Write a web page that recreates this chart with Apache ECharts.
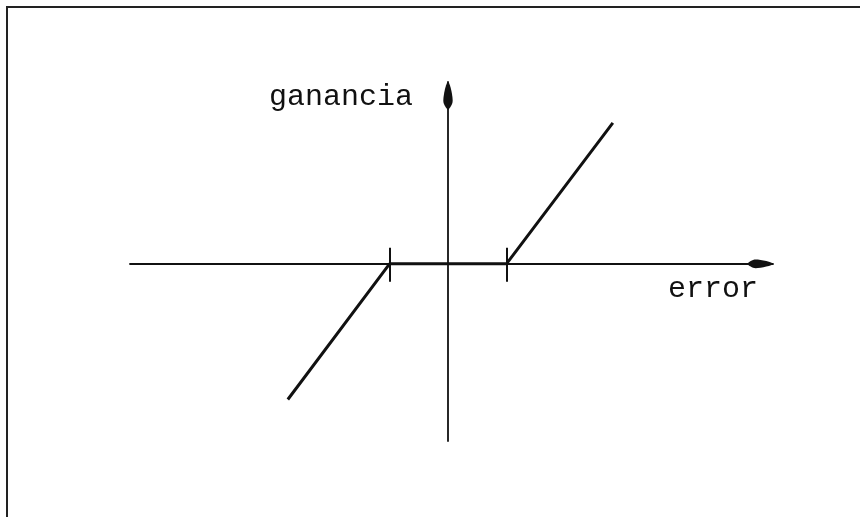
<!DOCTYPE html>
<html>
<head>
<meta charset="utf-8">
<script src="https://cdn.jsdelivr.net/npm/echarts@6/dist/echarts.min.js"></script>
<style>
  html, body { margin: 0; padding: 0; background: #fff; }
  #wrap { position: relative; width: 860px; height: 517px; overflow: hidden; }
  #frame {
    position: absolute; left: 6px; top: 6px; right: -10px; bottom: -10px;
    border-top: 2px solid #222; border-left: 2px solid #222;
  }
  #chart { position: absolute; left: 0; top: 0; width: 860px; height: 517px; }
</style>
</head>
<body>
<div id="wrap">
  <div id="frame"></div>
  <div id="chart"></div>
</div>
<script>
// zona muerta: ganancia vs error
const curveX = [-2.74, -1, 1, 2.82]
const curveY = [-2.32, 0, 0, 2.41]
const tickValues = [-1, 1]
const xRange = [-5.44, 5.56]
const yRange = [-3.03, 3.11]

const arrowPath = 'path://M5,0 C7,0 10,14 10,20 C10,24 7,28 5,30 C3,28 0,24 0,20 C0,14 3,0 5,0 Z'
const ink = '#111'
const labelFont = { fontFamily: 'Liberation Mono', fontSize: 30, color: ink }
const gridBox = { left: 130, right: 87, top: 82, bottom: 76, containLabel: false }

const chart = echarts.init(document.getElementById('chart'), null, { renderer: 'canvas' })

const option = {
  animation: false,
  backgroundColor: 'transparent',
  // la segunda rejilla solo lleva las marcas hacia arriba
  grid: [Object.assign({}, gridBox), Object.assign({}, gridBox)],
  xAxis: [
    {
      type: 'value',
      gridIndex: 0,
      min: xRange[0],
      max: xRange[1],
      name: 'error',
      nameLocation: 'end',
      nameGap: -105,
      nameTextStyle: Object.assign({}, labelFont, { align: 'left', verticalAlign: 'top', padding: [10, 0, 0, 0] }),
      axisLine: {
        onZero: true,
        symbol: ['none', arrowPath],
        symbolSize: [11, 26],
        symbolOffset: [0, -13],
        lineStyle: { color: ink, width: 1.8 }
      },
      axisTick: { show: true, customValues: tickValues, length: 18, inside: false, lineStyle: { color: ink, width: 2 } },
      axisLabel: { show: false },
      splitLine: { show: false }
    },
    {
      type: 'value',
      gridIndex: 1,
      min: xRange[0],
      max: xRange[1],
      axisLine: { show: true, onZero: true, lineStyle: { opacity: 0 } },
      axisTick: { show: true, customValues: tickValues, length: 16, inside: true, lineStyle: { color: ink, width: 2 } },
      axisLabel: { show: false },
      splitLine: { show: false }
    }
  ],
  yAxis: [
    {
      type: 'value',
      gridIndex: 0,
      min: yRange[0],
      max: yRange[1],
      name: 'ganancia',
      nameLocation: 'end',
      nameGap: -15,
      nameTextStyle: Object.assign({}, labelFont, { align: 'right', verticalAlign: 'middle', padding: [0, 35, 0, 0] }),
      axisLine: {
        onZero: true,
        symbol: ['none', arrowPath],
        symbolSize: [11, 28],
        symbolOffset: [0, -14],
        lineStyle: { color: ink, width: 1.8 }
      },
      axisTick: { show: false },
      axisLabel: { show: false },
      splitLine: { show: false }
    },
    {
      type: 'value',
      gridIndex: 1,
      min: yRange[0],
      max: yRange[1],
      show: false
    }
  ],
  series: [
    {
      type: 'line',
      xAxisIndex: 0,
      yAxisIndex: 0,
      data: curveX.map((x, i) => [x, curveY[i]]),
      showSymbol: false,
      symbol: 'none',
      lineStyle: { color: ink, width: 3 },
      silent: true
    }
  ]
}

chart.setOption(option)
</script>
</body>
</html>
